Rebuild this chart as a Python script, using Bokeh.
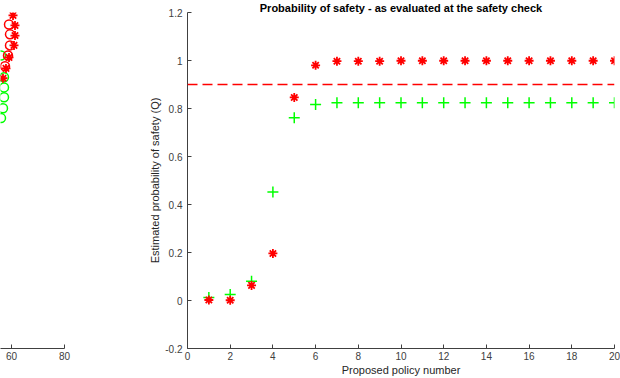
from bokeh.plotting import figure
from bokeh.layouts import row
from bokeh.models import FixedTicker, Span, Range1d
from bokeh.embed import file_html
from bokeh.resources import INLINE

# ---- data (main panel) ----
policy = list(range(1, 21))
q_check = [0.002, 0.001, 0.063, 0.196, 0.846, 0.980, 0.997, 0.997, 0.997, 0.999,
           0.999, 0.999, 0.999, 0.999, 0.999, 0.999, 0.999, 0.999, 0.999, 0.999]
q_est = [0.013, 0.025, 0.080, 0.452, 0.761, 0.817, 0.824, 0.824, 0.824, 0.824,
         0.824, 0.824, 0.824, 0.824, 0.824, 0.824, 0.824, 0.824, 0.824, 0.824]
threshold = 0.9
y_ticks = [-0.2, 0, 0.2, 0.4, 0.6, 0.8, 1, 1.2]
y_tick_labels = ["-0.2", "0", "0.2", "0.4", "0.6", "0.8", "1", "1.2"]
x_ticks = [0, 2, 4, 6, 8, 10, 12, 14, 16, 18, 20]
x_tick_labels = ["0", "2", "4", "6", "8", "10", "12", "14", "16", "18", "20"]
title_text = "Probability of safety - as evaluated at the safety check"

# ---- data (left, cut-off panel) ----
left_circ_red_x = [59.06, 59.43, 59.43, 58.68, 57.55]
left_circ_red_y = [1.150, 1.109, 1.063, 1.021, 0.976]
left_ast_red_x = [60.57, 61.32, 61.32, 60.94, 59.06, 57.92, 56.79]
left_ast_red_y = [1.188, 1.146, 1.104, 1.063, 1.013, 0.967, 0.926]
left_circ_green_x = [56.04, 57.17, 57.17, 57.17, 56.79, 56.04]
left_circ_green_y = [1.021, 0.930, 0.888, 0.847, 0.801, 0.760]
left_x_ticks = [40, 60, 80]
left_x_tick_labels = ["40", "60", "80"]

FONT = "Liberation Sans"
AX = "#404040"
H = 378
TOP = 12
BOT = 29


def style_axis(ax):
    ax.axis_line_color = AX
    ax.major_tick_line_color = AX
    ax.major_tick_in = 4
    ax.major_tick_out = 0
    ax.minor_tick_line_color = None
    ax.major_label_text_font = FONT
    ax.major_label_text_font_size = "10px"
    ax.major_label_text_color = AX
    ax.axis_label_text_font = FONT
    ax.axis_label_text_font_size = "11px"
    ax.axis_label_text_font_style = "normal"
    ax.axis_label_text_color = "#262626"


# ---- left panel ----
left = figure(width=78, height=H, output_backend="svg", toolbar_location=None,
              x_range=Range1d(55.85, 80), y_range=Range1d(-0.2, 1.2),
              min_border_left=0, min_border_right=14,
              min_border_top=TOP, min_border_bottom=BOT)
left.outline_line_color = None
left.grid.grid_line_color = None
left.yaxis.visible = False
left.xaxis.ticker = FixedTicker(ticks=left_x_ticks)
left.xaxis.major_label_overrides = dict(zip(left_x_ticks, left_x_tick_labels))
style_axis(left.xaxis[0])
left.xaxis.major_label_standoff = 3
left.scatter(left_circ_green_x, left_circ_green_y, marker="circle", size=9,
             fill_color=None, line_color="#00ff00", line_width=1.5)
left.scatter(left_circ_red_x, left_circ_red_y, marker="circle", size=9,
             fill_color=None, line_color="#ff0000", line_width=1.5)
left.scatter(left_ast_red_x, left_ast_red_y, marker="asterisk", size=9,
             line_color="#ff0000", line_width=1.8)

# ---- main panel ----
p = figure(width=542, height=H, output_backend="svg", toolbar_location=None,
           x_range=Range1d(0, 20), y_range=Range1d(-0.2, 1.2),
           min_border_left=109, min_border_right=6,
           min_border_top=TOP, min_border_bottom=BOT,
           title=title_text)
p.title.align = "center"
p.title.text_font = FONT
p.title.text_font_size = "11px"
p.title.text_font_style = "bold"
p.title.text_color = "black"
p.title.standoff = -3
p.title.offset = 0
p.outline_line_color = None
p.grid.grid_line_color = None
p.xaxis.ticker = FixedTicker(ticks=x_ticks)
p.xaxis.major_label_overrides = dict(zip(x_ticks, x_tick_labels))
p.yaxis.ticker = FixedTicker(ticks=y_ticks)
p.yaxis.major_label_overrides = dict(zip(y_ticks, y_tick_labels))
style_axis(p.xaxis[0])
style_axis(p.yaxis[0])
p.xaxis.major_label_standoff = 3
p.xaxis.axis_label_standoff = 1
p.yaxis.major_label_standoff = 5
p.yaxis.axis_label_standoff = 1
p.xaxis.axis_label = "Proposed policy number"
p.yaxis.axis_label = "Estimated probability of safety (Q)"

p.add_layout(Span(location=threshold, dimension="width", line_color="#ff0000",
                  line_width=1.3, line_dash="10 5"))
p.scatter(policy, q_est, marker="cross", size=11, line_color="#00ff00", line_width=1.5)
p.scatter(policy, q_check, marker="asterisk", size=9, line_color="#ff0000", line_width=1.8)

layout = row(left, p)
open("out.html", "w").write(file_html(layout, INLINE))
